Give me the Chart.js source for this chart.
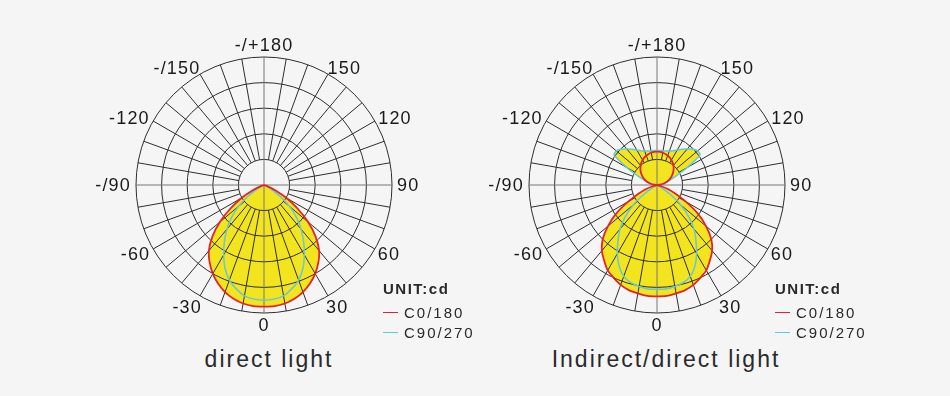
<!DOCTYPE html>
<html>
<head>
<meta charset="utf-8">
<script src="https://cdn.jsdelivr.net/npm/chart.js@4.4.1/dist/chart.umd.min.js"></script>
<style>
  html, body { margin: 0; padding: 0; background: #f5f5f5; }
  body { width: 950px; height: 396px; position: relative; overflow: hidden;
         font-family: "Liberation Sans", Arial, sans-serif; color: #2a2a2a; }
  canvas { position: absolute; top: 34px; }
  #leftChart { left: 69px; }
  #rightChart { left: 462px; }
  .title { position: absolute; top: 348px; font-size: 23px; line-height: 23px;
           letter-spacing: 2px; white-space: nowrap; transform: translateX(-50%); }
  .legend { position: absolute; top: 280px; font-size: 15px; line-height: 18px; letter-spacing: 2px; }
  .legend .unit { font-weight: bold; letter-spacing: 1.5px; height: 24px; }
  .legend .row { position: relative; padding-left: 21px; height: 20px; }
  .legend .row i { position: absolute; left: 0; top: 8px; width: 15px; height: 1px; }
</style>
</head>
<body>
<canvas id="leftChart" width="390" height="302"></canvas>
<canvas id="rightChart" width="390" height="302"></canvas>

<div class="title" style="left:269px">direct light</div>
<div class="title" style="left:666px">Indirect/direct light</div>

<div class="legend" style="left:383px">
  <div class="unit">UNIT:cd</div>
  <div class="row"><i style="background:#e5222a"></i>C0/180</div>
  <div class="row"><i style="background:#62c8dd"></i>C90/270</div>
</div>
<div class="legend" style="left:775px">
  <div class="unit">UNIT:cd</div>
  <div class="row"><i style="background:#e5222a"></i>C0/180</div>
  <div class="row"><i style="background:#62c8dd"></i>C90/270</div>
</div>

<script>
// gamma angle of every 5 degree step, going clockwise from the bottom (0)
const angleLabels = [0, -5, -10, -15, -20, -25, -30, -35, -40, -45, -50, -55, -60, -65, -70, -75, -80, -85,
  -90, -95, -100, -105, -110, -115, -120, -125, -130, -135, -140, -145, -150, -155, -160, -165, -170, -175,
  180, 175, 170, 165, 160, 155, 150, 145, 140, 135, 130, 125, 120, 115, 110, 105, 100, 95,
  90, 85, 80, 75, 70, 65, 60, 55, 50, 45, 40, 35, 30, 25, 20, 15, 10, 5];

const tickAngles = [0, -30, -60, -90, -120, -150, 180, 150, 120, 90, 60, 30];
const tickText = ['0', '-30', '-60', '-/90', '-120', '-/150', '-/+180', '150', '120', '90', '60', '30'];

const seriesNames = ['C0/180', 'C90/270'];

// direct light
const directC0 = [95, 95, 94, 92, 89, 85, 80, 74, 67, 57, 45, 32, 20, 10, 3,
  0, 0, 0, 0, 0, 0, 0, 0, 0, 0,
  0, 0, 0, 0, 0, 0, 0, 0, 0, 0,
  0, 0, 0, 0, 0, 0, 0, 0, 0, 0,
  0, 0, 0, 0, 0, 0, 0, 0, 0, 0,
  0, 0, 0,
  3, 10, 20, 32, 45, 57, 67, 74, 80, 85, 89, 92, 94, 95];
const directC90 = [90, 89.5, 88, 84, 79, 72, 63, 54, 45, 36, 26, 15, 6, 1,
  0, 0, 0, 0, 0, 0, 0, 0, 0, 0,
  0, 0, 0, 0, 0, 0, 0, 0, 0, 0,
  0, 0, 0, 0, 0, 0, 0, 0, 0, 0,
  0, 0, 0, 0, 0, 0, 0, 0, 0, 0,
  0, 0, 0, 0, 0,
  1, 6, 15, 26, 36, 45, 54, 63, 72, 79, 84, 88, 89.5];

// indirect/direct light
const indirectC0 = [87, 87, 86, 85, 83, 80, 77, 72, 67, 60, 50, 39, 26, 16, 9, 3, 0, 0, 0,
  2.3, 4.5, 6.7, 8.9, 11, 13, 14.9, 16.7, 18.4, 19.9, 21.3, 22.5, 23.6, 24.4, 25.1, 25.6, 25.9,
  26,
  25.9, 25.6, 25.1, 24.4, 23.6, 22.5, 21.3, 19.9, 18.4, 16.7, 14.9, 13, 11, 8.9, 6.7, 4.5, 2.3,
  0, 0, 0, 3, 9, 16, 26, 39, 50, 60, 67, 72, 77, 80, 83, 85, 86, 87];
const indirectC90 = [81.5, 81.5, 80.5, 79, 76, 70, 62, 53, 45, 35, 24, 12, 4, 1, 0, 0, 0, 0, 0,
  1, 3, 6, 10, 16, 27, 41, 41.5, 39.5, 37, 34, 31.5, 29.5, 28.2, 27.5, 27, 27,
  27,
  27, 27, 27.5, 28.2, 29.5, 31.5, 34, 37, 39.5, 41.5, 41, 27, 16, 10, 6, 3, 1,
  0, 0, 0, 0, 0, 1, 4, 12, 24, 35, 45, 53, 62, 70, 76, 79, 80.5, 81.5, 81.5];

const RED = '#e5222a';
const CYAN = '#62c8dd';
const YELLOW = '#f2e41e';
const GRID = '#2e2e2e';
const AXIS = '#777777';

// angle texts around the ring, placed at the scale's own point positions
const ringLabels = {
  id: 'ringLabels',
  afterDraw(chart) {
    const s = chart.scales.r;
    const ctx = chart.ctx;
    ctx.save();
    ctx.font = '18px "Liberation Sans", Arial, sans-serif';
    ctx.letterSpacing = '1.2px';
    ctx.fillStyle = '#1a1a1a';
    ctx.textBaseline = 'middle';
    tickAngles.forEach((g, k) => {
      const i = angleLabels.indexOf(g);
      const p = s.getPointPosition(i, s.drawingArea + 5);
      const a = s.getIndexAngle(i);
      const sin = Math.sin(a), cos = Math.cos(a);
      let x = p.x;
      let y = p.y + 1.5;
      if (Math.abs(sin) < 0.01) {
        ctx.textAlign = 'center';
        y -= 7 * cos;
      } else {
        const side = sin > 0 ? 1 : -1;
        ctx.textAlign = side > 0 ? 'left' : 'right';
        if (cos < 0) {
          x -= side * 6 * cos * cos;
          y += 8.5 * cos * cos;
        } else {
          x -= side * 4 * cos * cos;
          y -= 3.3 * cos * cos;
        }
      }
      ctx.fillText(tickText[k], x, y);
    });
    ctx.restore();
  }
};

function makeChart(id, c0, c90) {
  return new Chart(document.getElementById(id), {
    type: 'radar',
    data: {
      labels: angleLabels,
      datasets: [
        { label: seriesNames[0], data: c0, borderColor: RED, borderWidth: 1.8,
          backgroundColor: YELLOW, fill: true, pointRadius: 0, tension: 0.25 },
        { label: seriesNames[1], data: c90, borderColor: CYAN, borderWidth: 1.5,
          backgroundColor: YELLOW, fill: true, pointRadius: 0, tension: 0.25 }
      ]
    },
    options: {
      responsive: false,
      animation: false,
      events: [],
      layout: { padding: 23 },
      plugins: {
        legend: { display: false },
        tooltip: { enabled: false },
        filler: { drawTime: 'beforeDraw' }
      },
      scales: {
        r: {
          min: 0,
          max: 100,
          startAngle: 180,
          ticks: { display: false, stepSize: 20 },
          grid: { circular: true, color: GRID, lineWidth: 1 },
          angleLines: {
            color: ctx => angleLabels[ctx.index] % 90 === 0 ? AXIS : GRID,
            lineWidth: ctx => angleLabels[ctx.index] % 10 === 0 ? 1 : 0,
            borderDash: ctx => {
              if (angleLabels[ctx.index] % 90 === 0) return [];
              const hole = ctx.scale.getDistanceFromCenterForValue(20);
              return [0, hole, 1000, 0];
            }
          },
          pointLabels: { display: false }
        }
      }
    },
    plugins: [ringLabels]
  });
}

makeChart('leftChart', directC0, directC90);
makeChart('rightChart', indirectC0, indirectC90);
</script>
</body>
</html>
